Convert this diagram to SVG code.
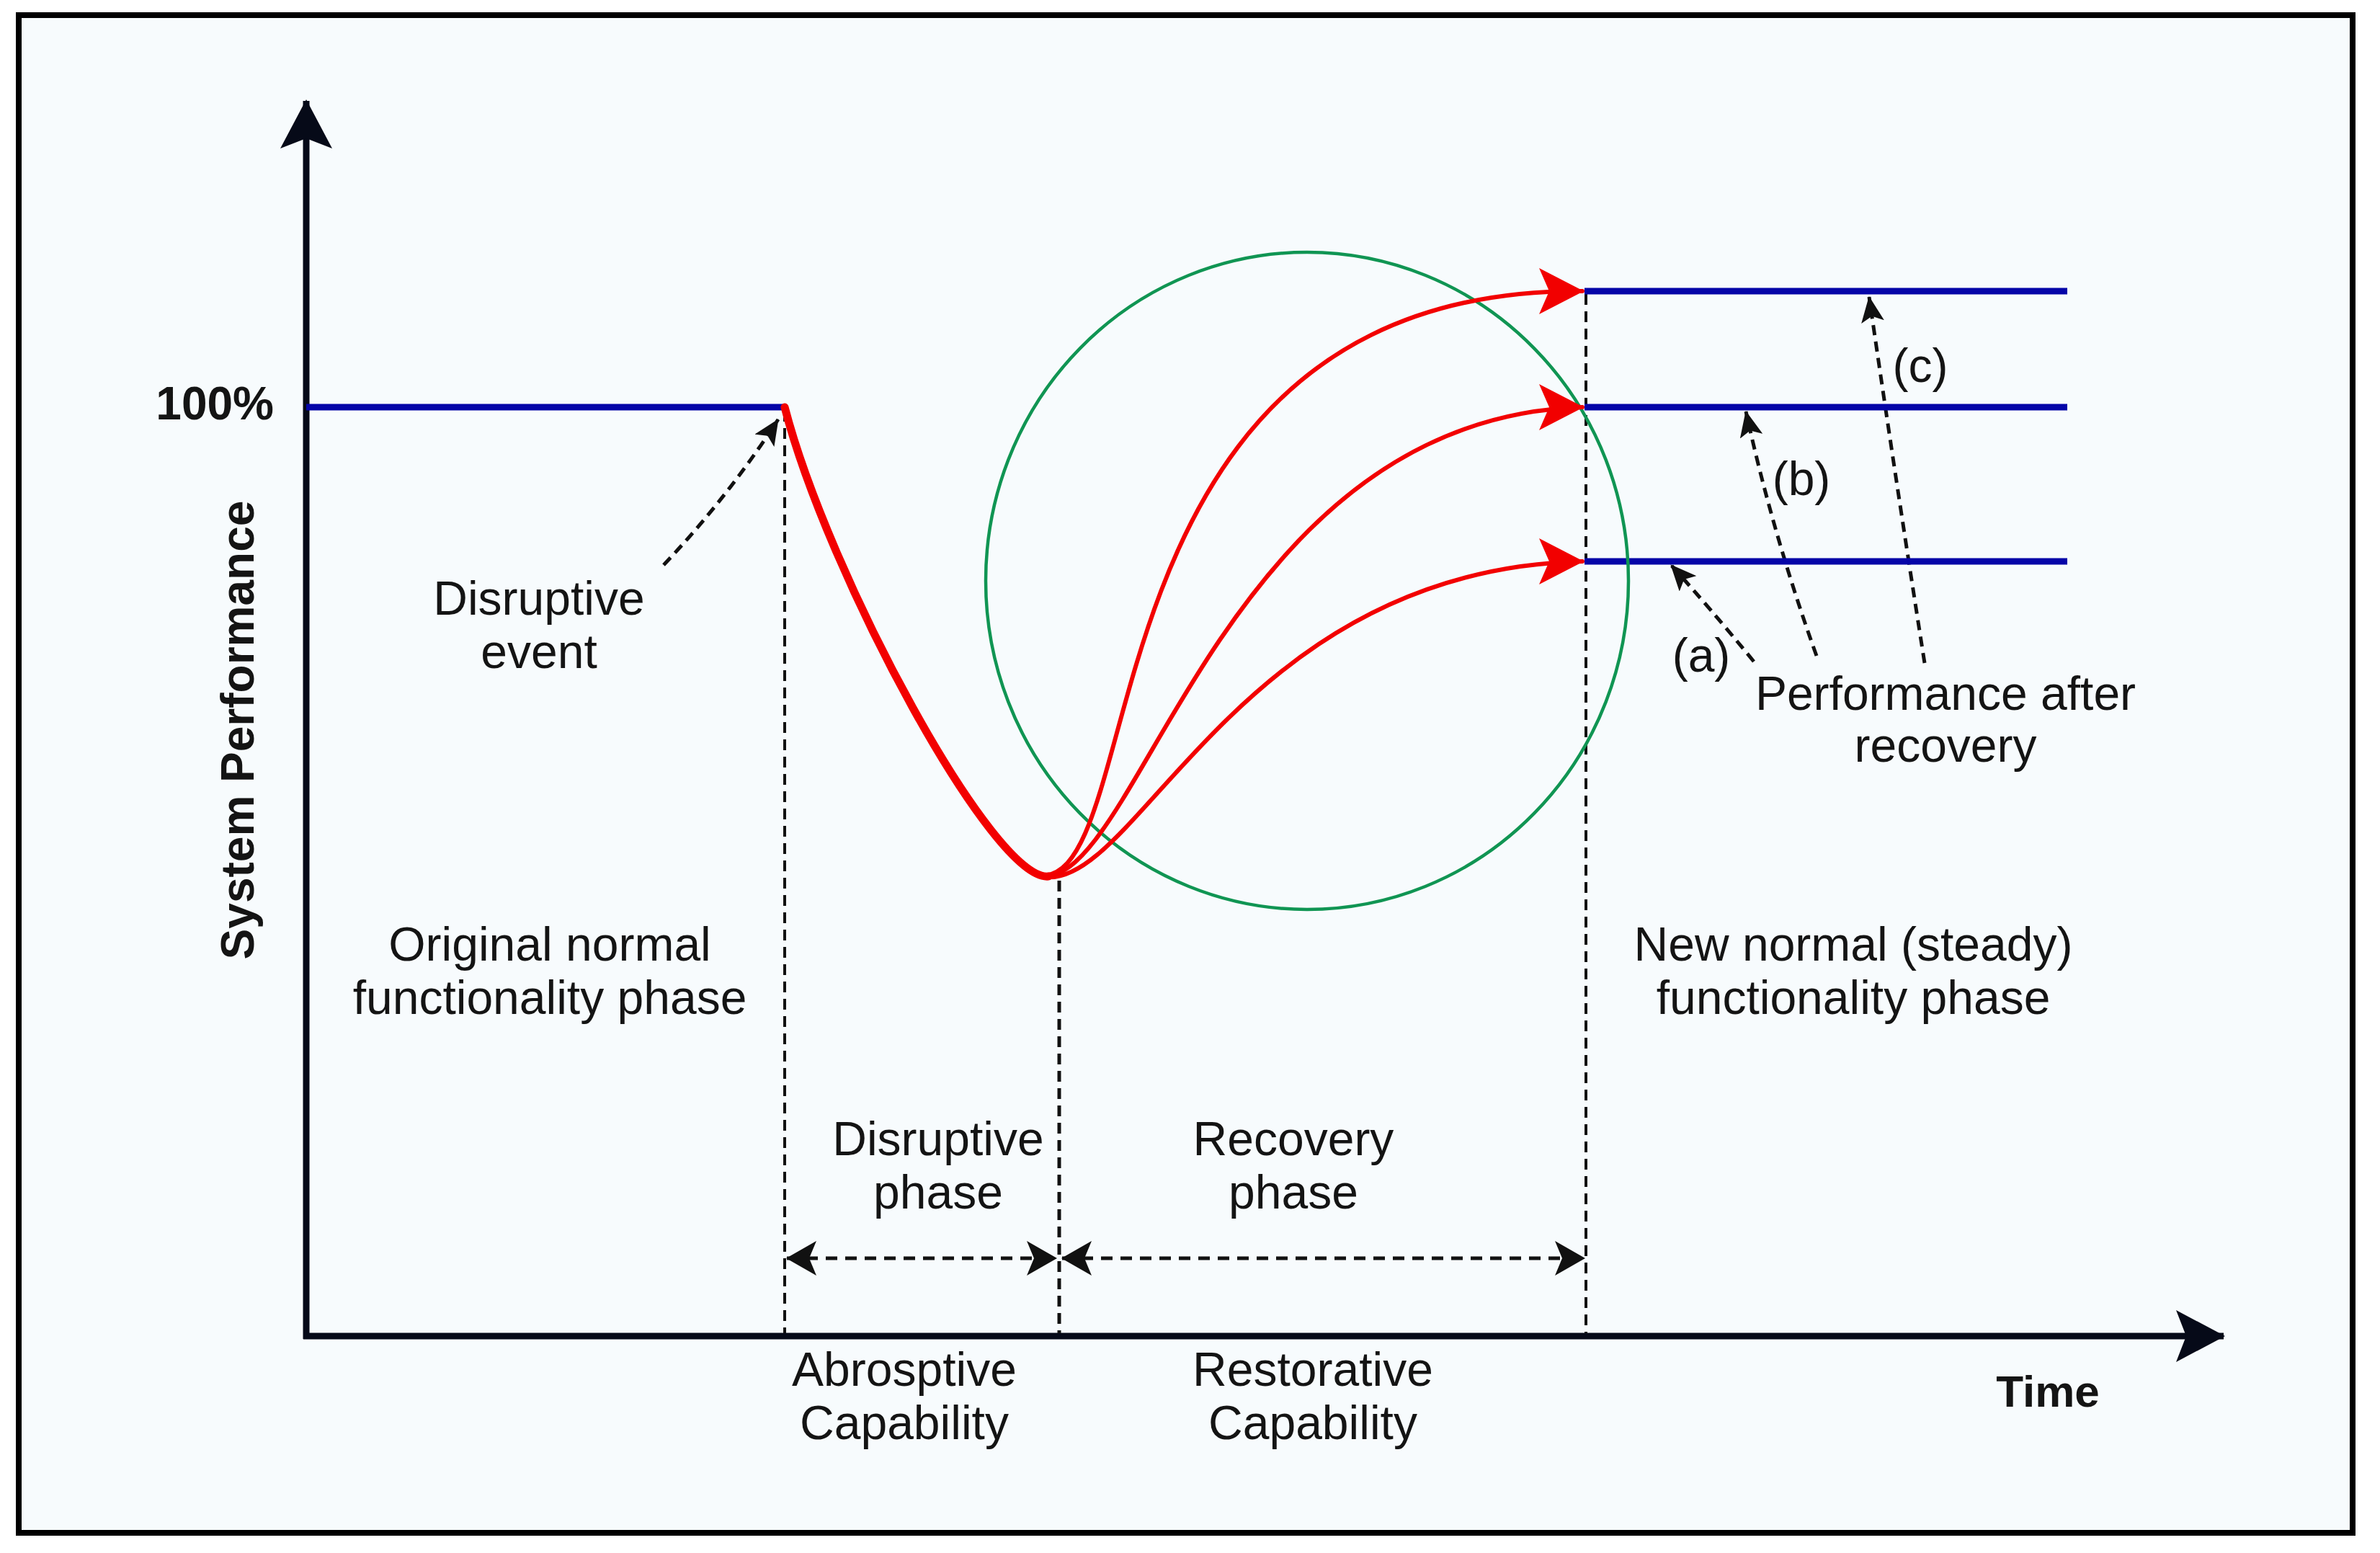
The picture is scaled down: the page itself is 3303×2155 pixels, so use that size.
<svg xmlns="http://www.w3.org/2000/svg" width="3303" height="2155" viewBox="0 0 3303 2155">
<style>
.t{font-family:"Liberation Sans",Arial,sans-serif;font-size:66px;fill:#141414;text-anchor:middle}
.b{font-weight:bold}
.blue{stroke:#0505a8;stroke-width:9;fill:none}
.axis{stroke:#060a18;stroke-width:9;fill:none}
.vdash{stroke:#111;stroke-width:4;stroke-dasharray:15 9;fill:none}
.hdash{stroke:#111;stroke-width:5;stroke-dasharray:16 11;fill:none}
.ann{stroke:#111;stroke-width:5;stroke-dasharray:14 9;fill:none}
.red{stroke:#f20000;fill:none;stroke-linecap:round}
</style>
<defs>
<marker id="axHead" markerUnits="userSpaceOnUse" viewBox="0 0 68 72" refX="66" refY="36" markerWidth="68" markerHeight="72" orient="auto">
<path d="M0,0 L68,36 L0,72 L14,36 Z" fill="#060a18"/>
</marker>
<marker id="redHead" markerUnits="userSpaceOnUse" viewBox="0 0 62 64" refX="60" refY="32" markerWidth="62" markerHeight="64" orient="0">
<path d="M0,0 L62,32 L0,64 L14,32 Z" fill="#f20000"/>
</marker>
<marker id="phHead" markerUnits="userSpaceOnUse" viewBox="0 0 42 48" refX="41" refY="24" markerWidth="42" markerHeight="48" orient="auto-start-reverse">
<path d="M0,0 L42,24 L0,48 L10,24 Z" fill="#111"/>
</marker>
<marker id="annHead" markerUnits="userSpaceOnUse" viewBox="0 0 36 32" refX="35" refY="16" markerWidth="36" markerHeight="32" orient="auto">
<path d="M0,0 L36,16 L0,32 L8,16 Z" fill="#111"/>
</marker>
</defs>
<rect x="0" y="0" width="3303" height="2155" fill="#ffffff"/>
<rect id="frame" x="26" y="21" width="3239" height="2106" fill="#f7fbfd" stroke="#000" stroke-width="8"/>

<g id="axes">
<line class="axis" x1="425" y1="1858" x2="425" y2="140" marker-end="url(#axHead)"/>
<line class="axis" x1="421" y1="1854" x2="3086" y2="1854" marker-end="url(#axHead)"/>
</g>

<g id="connectors">
<line class="vdash" x1="1089" y1="570" x2="1089" y2="1850"/>
<line class="vdash" x1="1470" y1="1222" x2="1470" y2="1850" style="stroke-width:5"/>
<line class="vdash" x1="2201" y1="408" x2="2201" y2="1850"/>
<line class="hdash" x1="1092" y1="1746" x2="1466" y2="1746" marker-start="url(#phHead)" marker-end="url(#phHead)"/>
<line class="hdash" x1="1474" y1="1746" x2="2199" y2="1746" marker-start="url(#phHead)" marker-end="url(#phHead)"/>
<path class="ann" d="M921,784 Q1010,690 1080,582" marker-end="url(#annHead)"/>
<path class="ann" d="M2434,918 Q2370,840 2319,784" marker-end="url(#annHead)"/>
<path class="ann" d="M2521,910 Q2460,740 2423,571" marker-end="url(#annHead)"/>
<path class="ann" d="M2671,920 Q2630,660 2594,412" marker-end="url(#annHead)"/>
</g>

<g id="baseline-line"><line class="blue" x1="425" y1="565" x2="1089" y2="565"/></g>
<g id="level-c"><line class="blue" x1="2199" y1="404" x2="2869" y2="404"/></g>
<g id="level-b"><line class="blue" x1="2199" y1="565" x2="2869" y2="565"/></g>
<g id="level-a"><line class="blue" x1="2199" y1="779" x2="2869" y2="779"/></g>

<g id="recovery-circle"><ellipse cx="1814" cy="806" rx="446" ry="456" fill="none" stroke="#109553" stroke-width="4.5"/></g>

<g id="curves">
<path class="red" stroke-width="11" d="M1089,565 C1150,800 1380,1225 1455,1216"/>
<path class="red" stroke-width="6" d="M1450,1215 C1600,1200 1500,400 2196,404" marker-end="url(#redHead)"/>
<path class="red" stroke-width="6" d="M1450,1216 C1585,1215 1700,580 2196,565" marker-end="url(#redHead)"/>
<path class="red" stroke-width="6" d="M1450,1217 C1580,1232 1720,790 2196,779" marker-end="url(#redHead)"/>
</g>

<g id="label-100"><text class="t b" x="380" y="582" style="text-anchor:end;font-size:64px">100%</text></g>
<g id="label-y"><text class="t b" x="352" y="1013" style="font-size:64px" transform="rotate(-90 352 1013)">System Performance</text></g>
<g id="label-time"><text class="t b" x="2842" y="1952" style="font-size:62px">Time</text></g>
<g id="label-event"><text class="t" x="748" y="853">Disruptive</text><text class="t" x="748" y="927">event</text></g>
<g id="label-original"><text class="t" x="763" y="1333">Original normal</text><text class="t" x="763" y="1407">functionality phase</text></g>
<g id="label-disruptive-phase"><text class="t" x="1302" y="1603">Disruptive</text><text class="t" x="1302" y="1677">phase</text></g>
<g id="label-recovery-phase"><text class="t" x="1795" y="1603">Recovery</text><text class="t" x="1795" y="1677">phase</text></g>
<g id="label-absorptive"><text class="t" x="1255" y="1923">Abrosptive</text><text class="t" x="1255" y="1997">Capability</text></g>
<g id="label-restorative"><text class="t" x="1822" y="1923">Restorative</text><text class="t" x="1822" y="1997">Capability</text></g>
<g id="label-new-normal"><text class="t" x="2572" y="1333">New normal (steady)</text><text class="t" x="2572" y="1407">functionality phase</text></g>
<g id="label-a"><text class="t" x="2361" y="932">(a)</text></g>
<g id="label-b"><text class="t" x="2500" y="687">(b)</text></g>
<g id="label-c"><text class="t" x="2665" y="530">(c)</text></g>
<g id="label-after"><text class="t" x="2700" y="985">Performance after</text><text class="t" x="2700" y="1057">recovery</text></g>
</svg>
